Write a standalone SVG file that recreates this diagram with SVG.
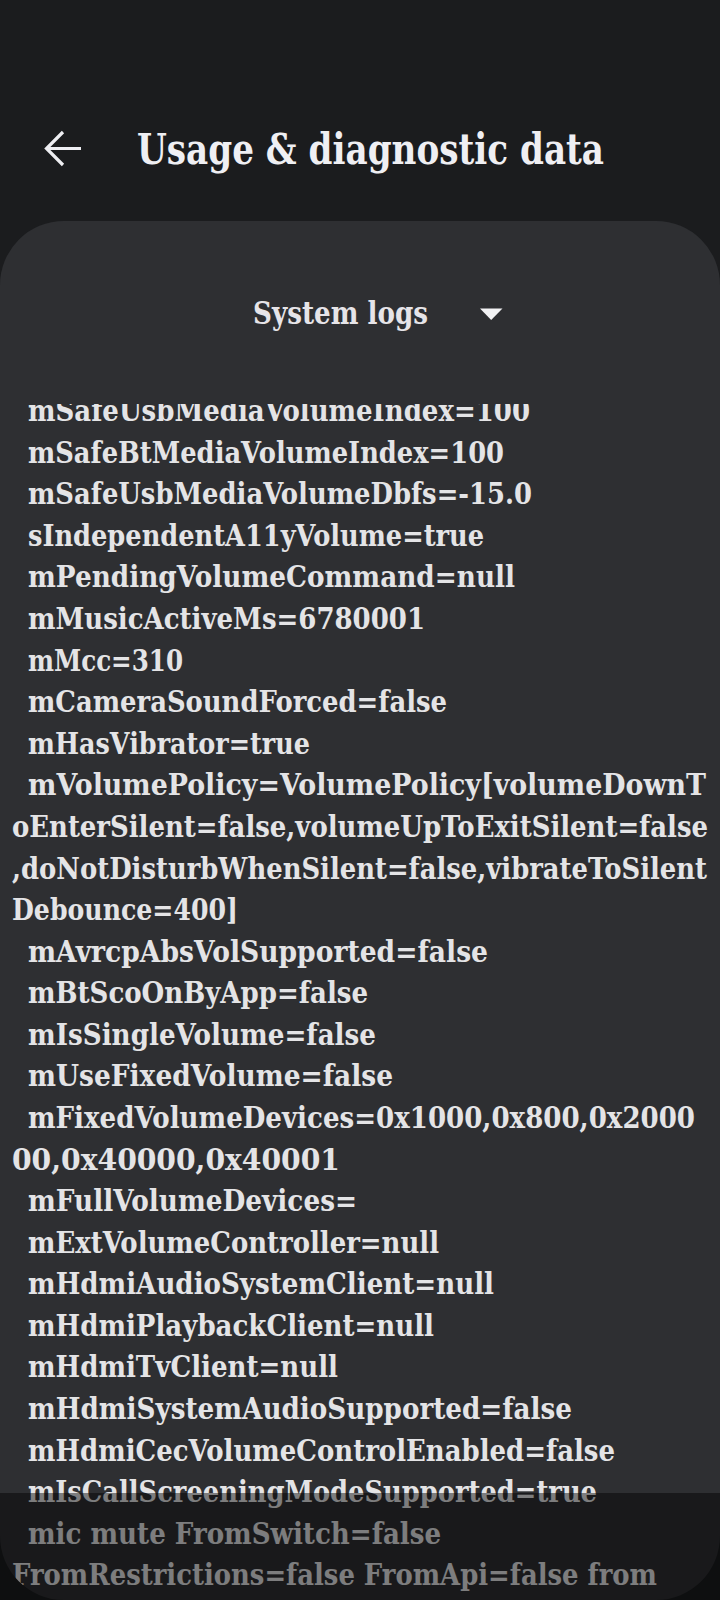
<svg xmlns="http://www.w3.org/2000/svg" width="720" height="1600" viewBox="0 0 720 1600">
<defs>
<style>
.t{font-family:"DejaVu Serif","Liberation Serif",serif;font-weight:bold;}
.log{font-family:"DejaVu Serif","Liberation Serif",serif;font-weight:bold;font-size:30px;fill:#e4e4e6;}
</style>
<clipPath id="logclip"><rect x="0" y="404" width="720" height="1196"/></clipPath>
</defs>
<rect id="background" x="0" y="0" width="720" height="1600" fill="#1b1c1e"/>
<g id="appbar">
<path d="M81 148.5 H47 M63 132 L46.5 148.5 L63 165" fill="none" stroke="#eeeef2" stroke-width="3.2" stroke-linecap="butt" stroke-linejoin="miter"/>
<text class="t" x="137" y="164" font-size="42" fill="#efeff3" textLength="467" lengthAdjust="spacingAndGlyphs">Usage &amp; diagnostic data</text>
</g>
<g id="card">
<rect x="0" y="221" width="720" height="1440" rx="64" ry="64" fill="#2e2f32"/>
</g>
<g id="dropdown">
<text class="t" x="253" y="324.3" font-size="31" fill="#e6e4e8" textLength="175" lengthAdjust="spacingAndGlyphs">System logs</text>
<polygon points="480,308.5 502.5,308.5 491.2,320" fill="#f2f2f4"/>
</g>
<g id="logs" clip-path="url(#logclip)">
<text class="log" x="28" y="421.1" textLength="502" lengthAdjust="spacingAndGlyphs">mSafeUsbMediaVolumeIndex=100</text>
<text class="log" x="28" y="462.7" textLength="476" lengthAdjust="spacingAndGlyphs">mSafeBtMediaVolumeIndex=100</text>
<text class="log" x="28" y="504.3" textLength="504" lengthAdjust="spacingAndGlyphs">mSafeUsbMediaVolumeDbfs=-15.0</text>
<text class="log" x="28" y="545.8" textLength="456" lengthAdjust="spacingAndGlyphs">sIndependentA11yVolume=true</text>
<text class="log" x="28" y="587.4" textLength="487" lengthAdjust="spacingAndGlyphs">mPendingVolumeCommand=null</text>
<text class="log" x="28" y="629.0" textLength="397" lengthAdjust="spacingAndGlyphs">mMusicActiveMs=6780001</text>
<text class="log" x="28" y="670.6" textLength="155" lengthAdjust="spacingAndGlyphs">mMcc=310</text>
<text class="log" x="28" y="712.2" textLength="419" lengthAdjust="spacingAndGlyphs">mCameraSoundForced=false</text>
<text class="log" x="28" y="753.7" textLength="282" lengthAdjust="spacingAndGlyphs">mHasVibrator=true</text>
<text class="log" x="28" y="795.3" textLength="678" lengthAdjust="spacingAndGlyphs">mVolumePolicy=VolumePolicy[volumeDownT</text>
<text class="log" x="12" y="836.9" textLength="696" lengthAdjust="spacingAndGlyphs">oEnterSilent=false,volumeUpToExitSilent=false</text>
<text class="log" x="12" y="878.5" textLength="695" lengthAdjust="spacingAndGlyphs">,doNotDisturbWhenSilent=false,vibrateToSilent</text>
<text class="log" x="12" y="920.1" textLength="226" lengthAdjust="spacingAndGlyphs">Debounce=400]</text>
<text class="log" x="28" y="961.6" textLength="460" lengthAdjust="spacingAndGlyphs">mAvrcpAbsVolSupported=false</text>
<text class="log" x="28" y="1003.2" textLength="340" lengthAdjust="spacingAndGlyphs">mBtScoOnByApp=false</text>
<text class="log" x="28" y="1044.8" textLength="348" lengthAdjust="spacingAndGlyphs">mIsSingleVolume=false</text>
<text class="log" x="28" y="1086.4" textLength="365" lengthAdjust="spacingAndGlyphs">mUseFixedVolume=false</text>
<text class="log" x="28" y="1128.0" textLength="667" lengthAdjust="spacingAndGlyphs">mFixedVolumeDevices=0x1000,0x800,0x2000</text>
<text class="log" x="12" y="1169.5" textLength="328" lengthAdjust="spacingAndGlyphs">00,0x40000,0x40001</text>
<text class="log" x="28" y="1211.1" textLength="329" lengthAdjust="spacingAndGlyphs">mFullVolumeDevices=</text>
<text class="log" x="28" y="1252.7" textLength="411" lengthAdjust="spacingAndGlyphs">mExtVolumeController=null</text>
<text class="log" x="28" y="1294.3" textLength="466" lengthAdjust="spacingAndGlyphs">mHdmiAudioSystemClient=null</text>
<text class="log" x="28" y="1335.9" textLength="406" lengthAdjust="spacingAndGlyphs">mHdmiPlaybackClient=null</text>
<text class="log" x="28" y="1377.4" textLength="310" lengthAdjust="spacingAndGlyphs">mHdmiTvClient=null</text>
<text class="log" x="28" y="1419.0" textLength="544" lengthAdjust="spacingAndGlyphs">mHdmiSystemAudioSupported=false</text>
<text class="log" x="28" y="1460.6" textLength="587" lengthAdjust="spacingAndGlyphs">mHdmiCecVolumeControlEnabled=false</text>
<text class="log" x="28" y="1502.2" textLength="569" lengthAdjust="spacingAndGlyphs">mIsCallScreeningModeSupported=true</text>
<text class="log" x="28" y="1543.8" textLength="413" lengthAdjust="spacingAndGlyphs">mic mute FromSwitch=false</text>
<text class="log" x="12" y="1585.4" textLength="645" lengthAdjust="spacingAndGlyphs">FromRestrictions=false FromApi=false from</text>
</g>
<g id="card-bottom-corners">
<path d="M0 1536 A64 64 0 0 0 64 1600 L0 1600 Z" fill="#1b1c1e"/>
<path d="M720 1536 A64 64 0 0 1 656 1600 L720 1600 Z" fill="#1b1c1e"/>
</g>
<rect id="bottom-scrim" x="0" y="1493" width="720" height="107" fill="#000000" fill-opacity="0.45"/>
</svg>
